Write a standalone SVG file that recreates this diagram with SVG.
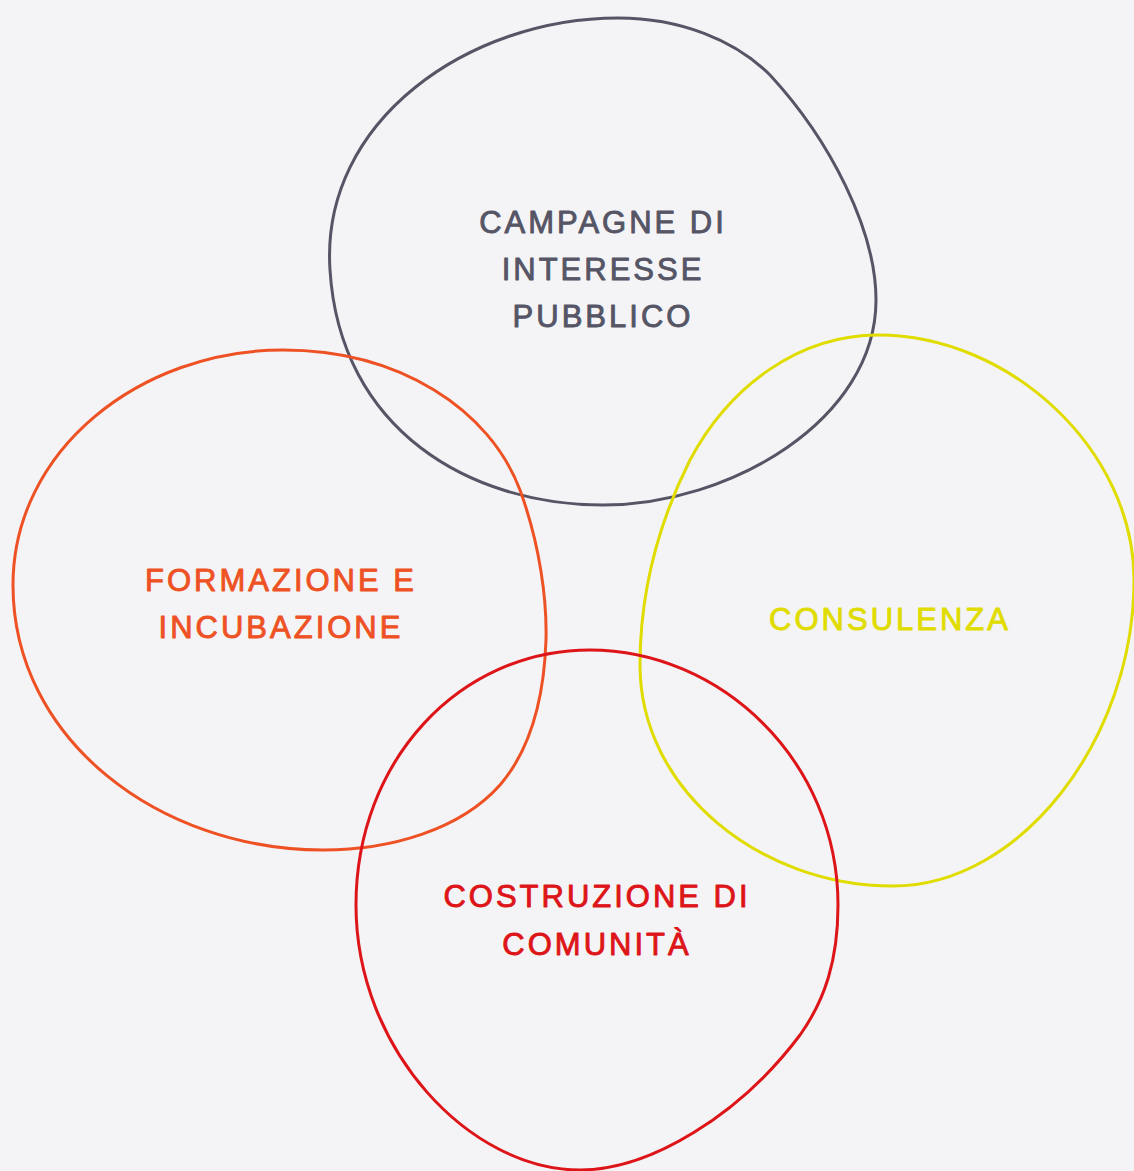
<svg xmlns="http://www.w3.org/2000/svg" width="1134" height="1171" viewBox="0 0 1134 1171">
<style>
.blob{fill:none;stroke-width:3;stroke-linejoin:round}
.lbl{font-family:"Liberation Sans",Arial,sans-serif;font-size:31px;letter-spacing:3px;text-anchor:middle;stroke-width:0.9px;stroke-linejoin:round}
</style>
<rect width="1134" height="1171" fill="#f4f4f6"/>
<g id="campagne">
<path class="blob" stroke="#555566" d="M 618 18 C 680 18, 735 40, 770 75 C 830 140, 876 230, 876 300 C 876 420, 730 505, 603 505 C 470 505, 340 430, 330 270 C 320 120, 470 18, 618 18 Z"/>
<text class="lbl" fill="#555566" stroke="#555566"><tspan x="603" y="233">CAMPAGNE DI</tspan><tspan x="603" y="280">INTERESSE</tspan><tspan x="603" y="327">PUBBLICO</tspan></text>
</g>
<g id="formazione">
<path class="blob" stroke="#ee5224" d="M 283 350 C 400 350, 490 410, 520 490 C 540 545, 547 600, 546 640 C 544 700, 530 750, 500 785 C 460 830, 390 850, 323 850 C 160 850, 13 740, 13 585 C 13 450, 140 350, 283 350 Z"/>
<text class="lbl" fill="#ee5224" stroke="#ee5224"><tspan x="281" y="591">FORMAZIONE E</tspan><tspan x="281" y="638">INCUBAZIONE</tspan></text>
</g>
<g id="consulenza">
<path class="blob" stroke="#e0dc00" d="M 878 335 C 1010 335, 1134 450, 1134 580 C 1134 740, 1020 886, 893 886 C 760 886, 640 790, 640 665 C 640 590, 660 520, 690 460 C 730 385, 800 335, 878 335 Z"/>
<text class="lbl" fill="#e0dc00" stroke="#e0dc00"><tspan x="890" y="630">CONSULENZA</tspan></text>
</g>
<g id="comunita">
<path class="blob" stroke="#dd1418" d="M 590 650 C 720 650, 838 760, 838 905 C 838 960, 825 1000, 800 1035 C 740 1115, 650 1170, 580 1170 C 470 1170, 356 1050, 356 905 C 356 760, 460 650, 590 650 Z"/>
<text class="lbl" fill="#dd1418" stroke="#dd1418"><tspan x="597" y="907">COSTRUZIONE DI</tspan><tspan x="597" y="955">COMUNITÀ</tspan></text>
</g>
<g id="connectors"/>
</svg>
